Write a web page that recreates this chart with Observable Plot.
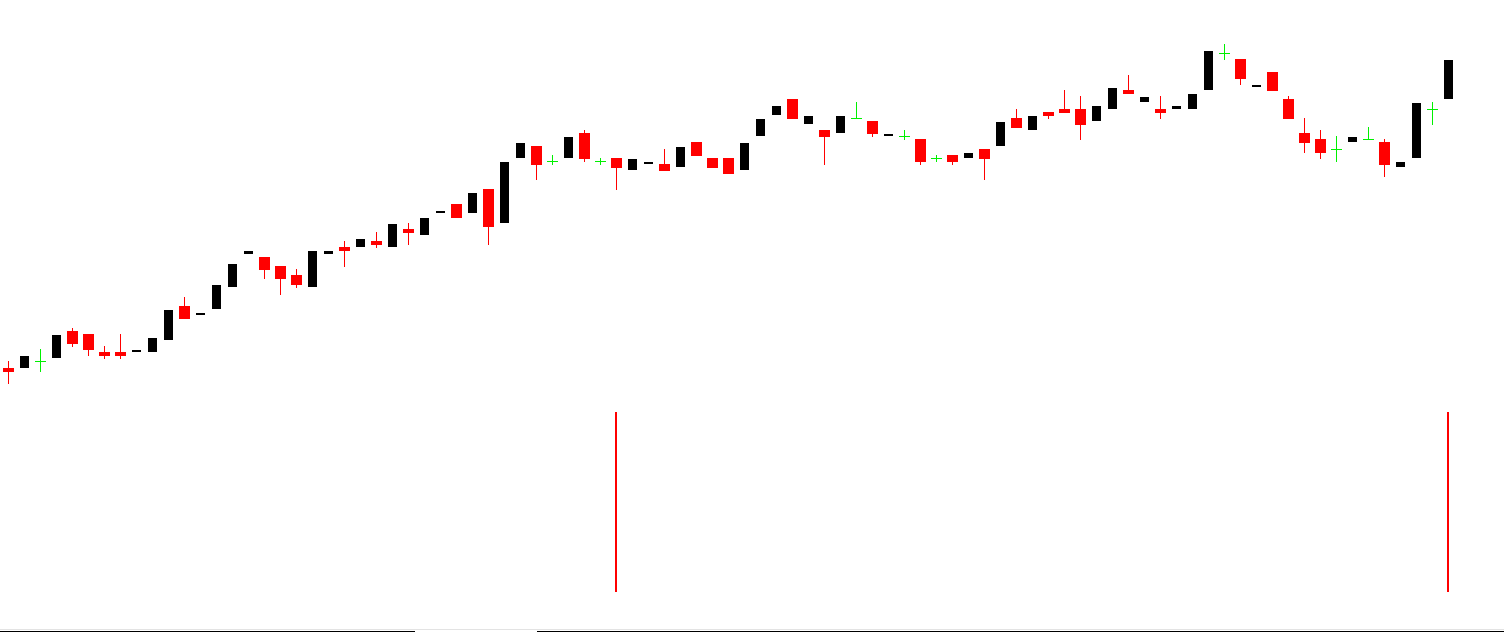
<!DOCTYPE html>
<html>
<head>
<meta charset="utf-8">
<script src="https://cdn.jsdelivr.net/npm/d3@7"></script>
<script src="https://cdn.jsdelivr.net/npm/@observablehq/plot@0.6"></script>
<style>
  html, body { margin: 0; padding: 0; background: #fff; overflow: hidden; }
  svg { display: block; }
  #bottom1 { height: 1px; }
  #bottom2 { height: 1px; background: #e3e3e3; }
  #bottom3 { height: 1px; }
  #bottom4 { height: 1px; display: flex; }
  #bottom4 .a { width: 415px; background: #000; }
  #bottom4 .b { width: 122px; background: #fff; }
  #bottom4 .c { flex: 1; background: #000; }
</style>
</head>
<body>
<div id="chart"></div>
<div id="bottom1"></div><div id="bottom2"></div><div id="bottom3"></div>
<div id="bottom4"><div class="a"></div><div class="b"></div><div class="c"></div></div>
<script>
// Candle values (arbitrary price units), one entry per bar
const openV  = [32,32,39,42,69,66,48,48,48,48,60,94,85,91,113,146,143,134,125,113,146,153,153,159,153,171,165,187,196,187,211,177,242,254,239,242,267,239,242,230,236,236,233,258,242,242,230,264,285,301,276,270,267,282,279,264,264,261,242,245,242,251,254,282,270,288,291,291,279,291,310,298,291,291,291,310,347,341,313,328,301,267,261,251,258,261,258,233,242,291,301];
const closeV = [28,44,39,65,56,50,44,44,50,62,90,81,87,115,136,149,130,121,115,149,149,149,161,155,176,167,182,189,182,207,173,238,257,235,239,263,241,239,232,241,238,229,253,244,232,226,257,281,294,281,284,263,284,282,266,266,264,238,242,238,247,241,278,272,284,284,287,275,294,312,306,303,287,294,306,349,347,321,315,309,281,257,247,251,263,261,235,238,297,291,340];
const highV  = [39,44,51,65,72,66,54,66,50,62,90,103,87,115,136,149,143,134,131,149,149,159,161,168,176,177,182,189,196,207,211,238,257,254,245,263,270,242,242,241,238,251,253,258,242,242,257,281,294,301,284,270,284,298,279,266,270,261,245,245,247,251,278,291,284,288,310,304,294,312,325,303,304,294,306,349,356,341,315,328,304,282,270,264,263,273,261,238,297,298,340];
const lowV   = [16,32,28,42,53,44,41,41,48,48,60,81,85,91,113,146,121,105,112,113,146,133,153,152,153,155,165,187,182,187,155,177,242,220,235,242,238,235,210,230,236,229,233,244,232,226,230,264,285,281,276,235,267,282,263,264,260,235,238,235,242,220,254,272,270,281,287,260,279,291,306,298,281,291,291,310,340,315,313,309,281,247,241,238,258,261,223,233,242,275,301];
// Lower pane signal bars (bar indices)
const signalIdx = [38, 90];

const candles = openV.map((o, i) => {
  const c = closeV[i];
  const kind = c > o ? "up" : c < o ? "down" : "doji";
  return {i, open: o, close: c, high: highV[i], low: lowV[i], kind,
          lo: Math.min(o, c), hi: Math.max(o, c)};
});
const colors = {up: "#000000", down: "#ff0000", doji: "#00f000"};
const idx = d3.range(openV.length);
const xOpts = {type: "band", domain: idx, paddingInner: 0.4375, paddingOuter: 0.21875, axis: null};

const pricePlot = Plot.plot({
  width: 1504, height: 400,
  marginTop: 0, marginBottom: 0, marginLeft: 0, marginRight: 48,
  x: xOpts,
  y: {domain: [0, 400], axis: null},
  marks: [
    Plot.ruleX(candles, {x: "i", y1: "low", y2: "high", stroke: d => colors[d.kind], strokeWidth: 1, dx: -0.5}),
    Plot.barY(candles.filter(d => d.kind === "up"), {x: "i", y1: "lo", y2: "hi", fill: colors.up}),
    Plot.barY(candles.filter(d => d.kind === "down"), {x: "i", y1: "lo", y2: "hi", fill: colors.down, insetLeft: -1, insetRight: -1}),
    Plot.tickY(candles.filter(d => d.kind === "doji"), {x: "i", y: "open", stroke: colors.doji, strokeWidth: 1, insetLeft: -1, insetRight: -1})
  ]
});

const signalPlot = Plot.plot({
  width: 1504, height: 228,
  marginTop: 0, marginBottom: 0, marginLeft: 0, marginRight: 48,
  x: xOpts,
  y: {domain: [0, 1], range: [192, 12], axis: null},
  marks: [
    Plot.ruleX(signalIdx, {x: d => d, y1: 0, y2: 1, stroke: "#ff0000", strokeWidth: 2, dx: -1})
  ]
});

const el = document.getElementById("chart");
el.appendChild(pricePlot);
el.appendChild(signalPlot);
</script>
</body>
</html>
